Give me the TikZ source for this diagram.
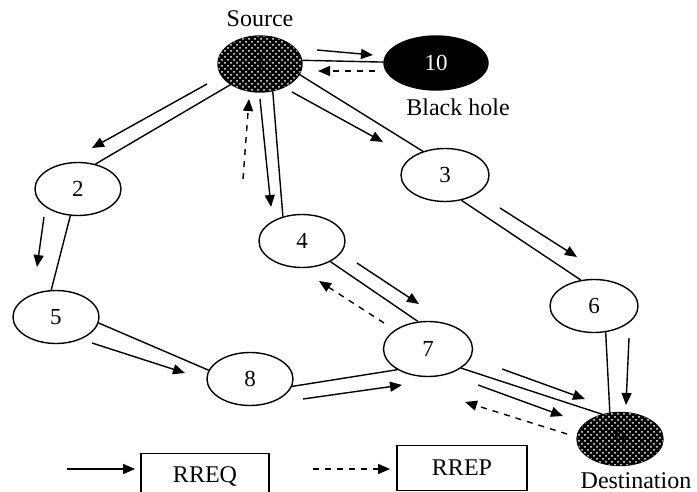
\documentclass[tikz,border=0pt]{standalone}
\usepackage{fontspec}
\setmainfont{Liberation Serif}
\usetikzlibrary{shapes.geometric, arrows.meta, patterns}
\tikzset{
x=0.5pt, y=-0.5pt, % one unit is one pixel of the sketch, y runs downwards
>={Triangle[length=6pt, width=5pt]}, % filled arrow heads
every node/.style={font=\fontsize{11.5}{13}\selectfont},
host/.style={ellipse, draw, line width=0.7pt, minimum width=43pt, minimum height=26.5pt, inner sep=0pt, fill=white}, % a mobile node
hatched/.style={fill=black, postaction={pattern=crosshatch dots, pattern color=white}}, % source and destination
link/.style={line width=0.7pt}, % radio link between two nodes
rreq/.style={->, line width=0.7pt}, % route request
rrep/.style={->, line width=0.7pt, dashed}, % route reply
caption/.style={font=\fontsize{12}{14}\selectfont},
keybox/.style={draw, line width=0.9pt, minimum width=64pt, minimum height=22.5pt, font=\fontsize{12}{14}\selectfont},
}

\begin{document}
\begin{tikzpicture}
    \useasboundingbox (0,0) rectangle (697,492);
    \node[host, hatched, minimum width=42pt, minimum height=28pt] (n1) at (260,64) {1};
    \node[host, fill=black, text=white, minimum width=52pt, minimum height=27pt] (n10) at (436,63) {10};
    \node[host] (n2) at (78,189) {2};
    \node[host, minimum width=44pt] (n3) at (445,175) {3};
    \node[host] (n4) at (302,241) {4};
    \node[host] (n5) at (56,317) {5};
    \node[host, minimum width=44pt] (n6) at (594,306) {6};
    \node[host, minimum width=44.5pt, minimum height=27.5pt] (n7) at (428,349) {7};
    \node[host] (n8) at (250,379) {8};
    \node[host, hatched] (n9) at (620,439) {9};
    \node[caption] (src) at (260,19) {Source};
    \node[caption] (bh) at (458,107) {Black hole};
    \node[caption, inner sep=1pt] (dst) at (636,481) {Destination};
    \draw[link] (n1.5) edge (n10.179)
    (n1.215) edge (n2.55)
    (n1.-15) edge (n3.133)
    (n1.-65) edge (n4.128)
    (n2.-106) edge (n5.100)
    (n5.-8) edge (n8.168)
    (n8.-10) edge (n7.214)
    (n4.-36) edge (n7.110)
    (n3.-57) edge (n6.117)
    (n6.-66) edge (n9.111)
    (n7.-30) edge (n9.126);
    % RREQ flooding
    \draw[rreq] (317,50) -- (373,55);
    \draw[rreq] (207,84) -- (92,148);
    \draw[rreq] (260,99) -- (271,207);
    \draw[rreq] (292,92) -- (383,142);
    \draw[rreq] (44,217) -- (37,267);
    \draw[rreq] (92,343) -- (185,373);
    \draw[rreq] (303,399) -- (402,385);
    \draw[rreq] (357,263) -- (419,304);
    \draw[rreq] (500,208) -- (577,257);
    \draw[rreq] (629,338) -- (626,405);
    \draw[rreq] (502,369) -- (585,399);
    \draw[rreq] (478,385) -- (563,416);
    % RREP back to the source
    \draw[rrep] (375,71) -- (318,71);
    \draw[rrep] (243,179) -- (249,99);
    \draw[rrep] (384,323) -- (319,281);
    \draw[rrep] (567,434) -- (465,402);
    % key
    \node[keybox] (rreq) at (205,476) {RREQ};
    \node[keybox, minimum width=65pt] (rrep) at (462,468) {RREP};
    \coordinate (reqtail) at (67,469);
    \coordinate (reptail) at (313,469);
    \draw[rreq, shorten >=2.5pt] (reqtail) -- (reqtail -| rreq.west);
    \draw[rrep, shorten >=3pt] (reptail) -- (reptail -| rrep.west);
\end{tikzpicture}
\end{document}
